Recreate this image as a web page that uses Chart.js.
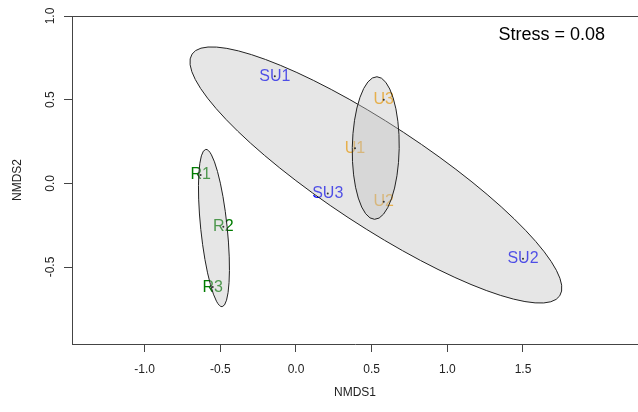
<!DOCTYPE html>
<html>
<head>
<meta charset="utf-8">
<script src="https://cdn.jsdelivr.net/npm/chart.js@4.4.0/dist/chart.umd.min.js"></script>
<style>
  html, body { margin: 0; padding: 0; background: #fff; overflow: hidden; }
  #wrap { width: 638px; height: 412px; position: relative; }
</style>
</head>
<body>
<div id="wrap"><canvas id="c"></canvas></div>
<script>
// NMDS site scores
const siteLabels = ['SU1', 'SU2', 'SU3', 'U1', 'U2', 'U3', 'R1', 'R2', 'R3'];
const siteGroup = [0, 0, 0, 1, 1, 1, 2, 2, 2];
const nmds1 = [-0.14, 1.50, 0.21, 0.39, 0.58, 0.58, -0.63, -0.48, -0.55];
const nmds2 = [0.64, -0.45, -0.06, 0.21, -0.11, 0.50, 0.05, -0.26, -0.62];

// groups: SU, U, R
const groupColors = ['#0000ff', '#ffa500', '#007c00'];

// one ellipse per group: centre + two conjugate semi-axes (NMDS units)
const ellCentreX = [0.528, 0.527, -0.542];
const ellCentreY = [0.050, 0.211, -0.267];
const ellAxis1 = [[1.215, -0.722], [-0.008, -0.426], [0.054, -0.470]];
const ellAxis2 = [[-0.184, -0.254], [-0.155, 0.003], [-0.087, -0.008]];

const xTicks = [-1.0, -0.5, 0.0, 0.5, 1.0, 1.5];
const yTicks = [-0.5, 0.0, 0.5, 1.0];
const stressText = 'Stress = 0.08';

Chart.defaults.font.family = '"Liberation Sans", Arial, sans-serif';
Chart.defaults.font.size = 12;
Chart.defaults.color = '#222';

// labels first, then the ellipses on top of them (that washes out the labels inside)
const ordiPlugin = {
    id: 'ordi',
    beforeDatasetsDraw(chart) {
        const ctx = chart.ctx;
        const xs = chart.scales.x, ys = chart.scales.y;
        ctx.save();
        ctx.font = '16px "Liberation Sans", Arial, sans-serif';
        ctx.textAlign = 'center';
        ctx.textBaseline = 'middle';
        siteLabels.forEach((lab, i) => {
            ctx.fillStyle = groupColors[siteGroup[i]];
            ctx.fillText(lab, xs.getPixelForValue(nmds1[i]), ys.getPixelForValue(nmds2[i]));
        });

        const kx = xs.getPixelForValue(1) - xs.getPixelForValue(0);
        const ky = ys.getPixelForValue(1) - ys.getPixelForValue(0);
        ellCentreX.forEach((cx, g) => {
            const a1 = ellAxis1[g], a2 = ellAxis2[g];
            ctx.save();
            ctx.beginPath();
            ctx.transform(a1[0] * kx, a1[1] * ky, a2[0] * kx, a2[1] * ky,
                xs.getPixelForValue(cx), ys.getPixelForValue(ellCentreY[g]));
            ctx.arc(0, 0, 1, 0, Math.PI * 2);
            ctx.restore();
            ctx.fillStyle = 'rgba(192, 192, 192, 0.4)';
            ctx.fill();
            ctx.lineWidth = 1;
            ctx.strokeStyle = '#222';
            ctx.stroke();
        });
        ctx.restore();
    },
    afterDraw(chart) {
        const ctx = chart.ctx;
        const a = chart.chartArea;
        ctx.save();
        // box: top line (left/bottom come from the axes)
        ctx.strokeStyle = '#444';
        ctx.lineWidth = 1;
        ctx.beginPath();
        ctx.moveTo(a.left, a.top + 0.5);
        ctx.lineTo(a.right, a.top + 0.5);
        ctx.stroke();
        ctx.fillStyle = '#000';
        ctx.font = '18px "Liberation Sans", Arial, sans-serif';
        ctx.textAlign = 'right';
        ctx.textBaseline = 'middle';
        ctx.fillText(stressText, a.right - 33, a.top + 19);
        ctx.restore();
    }
};

new Chart(document.getElementById('c'), {
    type: 'scatter',
    data: {
        datasets: [{
            data: nmds1.map((x, i) => ({ x: x, y: nmds2[i] })),
            pointRadius: 1,
            pointHoverRadius: 1,
            borderWidth: 0,
            backgroundColor: '#333'
        }]
    },
    options: {
        responsive: true,
        maintainAspectRatio: false,
        animation: false,
        layout: { autoPadding: false, padding: { top: 16, left: 0, right: 0, bottom: 0 } },
        plugins: {
            legend: { display: false },
            tooltip: { enabled: false }
        },
        scales: {
            x: {
                type: 'linear',
                min: -1.48,
                max: 2.26,
                afterBuildTicks: s => { s.ticks = xTicks.map(v => ({ value: v })); },
                afterFit: s => { s.height = 68; s.paddingLeft = 0; s.paddingRight = 0; },
                grid: { drawOnChartArea: false, tickLength: 8, color: '#444' },
                border: { display: true, color: '#444' },
                ticks: { padding: 10, maxRotation: 0, callback: v => v.toFixed(1) },
                title: { display: true, text: 'NMDS1', padding: { top: 0, bottom: 12 } }
            },
            y: {
                type: 'linear',
                min: -0.96,
                max: 1.0,
                afterBuildTicks: s => { s.ticks = yTicks.map(v => ({ value: v })); },
                afterFit: s => { s.width = 72; s.paddingTop = 0; s.paddingBottom = 0; },
                grid: { drawOnChartArea: false, tickLength: 8, color: '#444' },
                border: { display: true, color: '#444' },
                ticks: { padding: 3, minRotation: 90, maxRotation: 90, crossAlign: 'center', callback: v => v.toFixed(1) },
                title: { display: true, text: 'NMDS2', padding: { top: 10, bottom: 0 } }
            }
        }
    },
    plugins: [ordiPlugin]
});
</script>
</body>
</html>
